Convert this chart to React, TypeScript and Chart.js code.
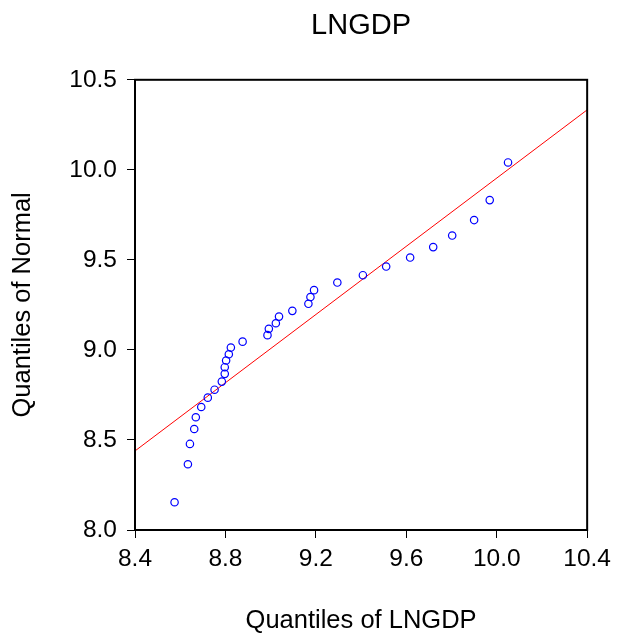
import React, { useEffect, useRef } from "react";
import { Chart, registerables } from "chart.js";

Chart.register(...registerables);

const title = "LNGDP";
const xTitle = "Quantiles of LNGDP";
const yTitle = "Quantiles of Normal";

const xQuantiles = [
  8.575, 8.634, 8.643, 8.662, 8.669, 8.693, 8.722, 8.752, 8.784, 8.797, 8.797,
  8.803, 8.815, 8.824, 8.876, 8.986, 8.992, 9.023, 9.037, 9.096, 9.167, 9.176,
  9.192, 9.295, 9.408, 9.511, 9.617, 9.719, 9.803, 9.9, 9.969, 10.05,
];
const yQuantiles = [
  8.154, 8.365, 8.478, 8.561, 8.626, 8.683, 8.735, 8.779, 8.824, 8.867, 8.904,
  8.941, 8.976, 9.013, 9.046, 9.082, 9.117, 9.148, 9.185, 9.217, 9.256, 9.294,
  9.332, 9.374, 9.415, 9.463, 9.513, 9.571, 9.635, 9.721, 9.832, 10.041,
];
const lineX = [8.4, 10.4];
const lineY = [8.439, 10.333];

const xTicks = [8.4, 8.8, 9.2, 9.6, 10.0, 10.4];
const yTicks = [8.0, 8.5, 9.0, 9.5, 10.0, 10.5];

const FONT = "'Liberation Sans', Arial, Helvetica, sans-serif";

const boxPlugin = {
  id: "boxPlugin",
  afterDraw(chart: any) {
    const { ctx, chartArea } = chart;
    ctx.save();
    ctx.strokeStyle = "#000";
    ctx.lineWidth = 2;
    ctx.strokeRect(
      chartArea.left,
      chartArea.top,
      chartArea.right - chartArea.left,
      chartArea.bottom - chartArea.top
    );
    ctx.restore();
  },
};

export default function App() {
  const ref = useRef<HTMLCanvasElement | null>(null);

  useEffect(() => {
    document.body.style.margin = "0";
    const canvas = ref.current;
    if (!canvas) return;
    const chart = new Chart(canvas, {
      type: "scatter",
      data: {
        datasets: [
          {
            type: "scatter",
            data: xQuantiles.map((x, i) => ({ x, y: yQuantiles[i] })),
            borderColor: "#0000ff",
            backgroundColor: "rgba(0,0,0,0)",
            pointRadius: 3.7,
            pointBorderWidth: 1.2,
            pointStyle: "circle",
            order: 1,
          },
          {
            type: "line",
            data: lineX.map((x, i) => ({ x, y: lineY[i] })),
            borderColor: "#ff0000",
            borderWidth: 1,
            pointRadius: 0,
            fill: false,
            order: 2,
          } as any,
        ],
      },
      options: {
        animation: false,
        responsive: false,
        devicePixelRatio: 1,
        layout: { padding: { left: 0, right: 30, top: 0, bottom: 0 } },
        plugins: {
          legend: { display: false },
          tooltip: { enabled: false },
          title: {
            display: true,
            fullSize: false,
            text: title,
            color: "#000",
            font: { family: FONT, size: 29, weight: "normal", lineHeight: 1.2 },
            padding: { top: 9, bottom: 36 },
          },
        },
        scales: {
          x: {
            type: "linear",
            min: 8.4,
            max: 10.4,
            afterBuildTicks(scale: any) {
              scale.ticks = xTicks.map((v) => ({ value: v }));
            },
            afterFit(scale: any) {
              scale.height = 109;
            },
            ticks: {
              color: "#000",
              font: { family: FONT, size: 24.5, lineHeight: 1.2 },
              padding: 7,
              maxRotation: 0,
              autoSkip: false,
              callback: (v: any) => Number(v).toFixed(1),
            },
            grid: {
              display: true,
              drawOnChartArea: false,
              drawTicks: true,
              tickLength: 8,
              color: "#000",
              lineWidth: 1,
            },
            border: { display: false },
            title: {
              display: true,
              text: xTitle,
              color: "#000",
              font: { family: FONT, size: 25.5, lineHeight: 1.2 },
              padding: { top: 0, bottom: 3 },
            },
          },
          y: {
            type: "linear",
            min: 8.0,
            max: 10.5,
            afterBuildTicks(scale: any) {
              scale.ticks = yTicks.map((v) => ({ value: v }));
            },
            afterFit(scale: any) {
              scale.width = 135;
            },
            ticks: {
              color: "#000",
              font: { family: FONT, size: 24.5, lineHeight: 1.2 },
              padding: 10,
              autoSkip: false,
              callback: (v: any) => Number(v).toFixed(1),
            },
            grid: {
              display: true,
              drawOnChartArea: false,
              drawTicks: true,
              tickLength: 8,
              color: "#000",
              lineWidth: 1,
            },
            border: { display: false },
            title: {
              display: true,
              text: yTitle,
              color: "#000",
              font: { family: FONT, size: 25.5, lineHeight: 1.2 },
              padding: { top: 8, bottom: 0 },
            },
          },
        },
      },
      plugins: [boxPlugin],
    });
    return () => chart.destroy();
  }, []);

  return (
    <div style={{ width: 618, height: 639 }}>
      <canvas ref={ref} width={618} height={639} style={{ display: "block" }} />
    </div>
  );
}
